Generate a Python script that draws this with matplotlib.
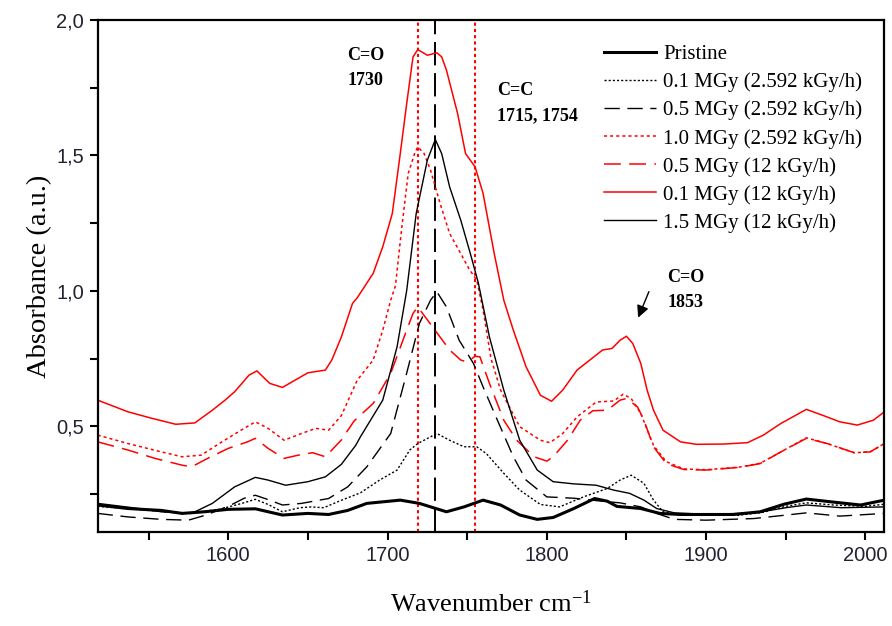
import numpy as np
import matplotlib
matplotlib.use("Agg")
import matplotlib.pyplot as plt
from matplotlib.ticker import MultipleLocator, FuncFormatter

plt.rcParams['mathtext.default'] = 'regular'

# --- spectra (wavenumber, absorbance) ---
wn_pristine = [1518, 1537, 1558, 1571, 1585, 1600, 1617, 1634, 1650, 1663, 1675, 1687, 1708, 1720,
               1737, 1748, 1760, 1771, 1783, 1794, 1804, 1817, 1830, 1838, 1844, 1859, 1871, 1884,
               1917, 1934, 1949, 1963, 1978, 1997, 2012]
a_pristine = [0.210, 0.197, 0.190, 0.179, 0.185, 0.194, 0.196, 0.173, 0.179, 0.175, 0.190, 0.216, 0.228, 0.216,
              0.185, 0.203, 0.228, 0.210, 0.173, 0.157, 0.164, 0.197, 0.234, 0.224, 0.205, 0.197, 0.179, 0.175,
              0.175, 0.185, 0.213, 0.232, 0.222, 0.210, 0.228]

wn_01_low = [1518, 1540, 1560, 1578, 1595, 1608, 1617, 1625, 1634, 1645, 1652, 1660, 1670, 1683, 1695,
             1706, 1714, 1719, 1731, 1739, 1748, 1756, 1762, 1773, 1783, 1796, 1808, 1823, 1838, 1846,
             1853, 1861, 1867, 1873, 1885, 1920, 1935, 1950, 1963, 1980, 2000, 2012]
a_01_low = [0.205, 0.195, 0.185, 0.180, 0.195, 0.215, 0.231, 0.212, 0.185, 0.200, 0.203, 0.200, 0.225, 0.255, 0.302,
            0.339, 0.413, 0.437, 0.474, 0.449, 0.425, 0.425, 0.400, 0.327, 0.265, 0.212, 0.203, 0.240, 0.271, 0.302,
            0.320, 0.290, 0.228, 0.185, 0.172, 0.172, 0.182, 0.205, 0.218, 0.210, 0.205, 0.213]

wn_05_low = [1518, 1537, 1558, 1575, 1586, 1600, 1610, 1617, 1625, 1634, 1646, 1663, 1675, 1687, 1702,
             1712, 1720, 1727, 1731, 1737, 1745, 1754, 1760, 1769, 1779, 1787, 1800, 1817, 1838, 1846,
             1859, 1869, 1880, 1900, 1930, 1963, 1984, 2012]
a_05_low = [0.179, 0.166, 0.157, 0.154, 0.173, 0.205, 0.235, 0.246, 0.230, 0.210, 0.216, 0.234, 0.277, 0.351, 0.474,
            0.696, 0.880, 0.966, 0.997, 0.941, 0.818, 0.732, 0.646, 0.523, 0.388, 0.302, 0.240, 0.235, 0.222, 0.218,
            0.203, 0.179, 0.157, 0.154, 0.160, 0.181, 0.169, 0.179]

wn_10_low = [1518, 1537, 1558, 1571, 1583, 1596, 1608, 1617, 1625, 1635, 1646, 1655, 1663, 1671, 1681,
             1691, 1697, 1702, 1705, 1709, 1713, 1717, 1719, 1723, 1727, 1733, 1739, 1746, 1751, 1756,
             1760, 1765, 1771, 1783, 1796, 1802, 1810, 1819, 1831, 1842, 1848, 1853, 1859, 1867, 1875,
             1886, 1900, 1921, 1934, 1947, 1963, 1976, 1993, 2003, 2012]
a_10_low = [0.468, 0.437, 0.406, 0.388, 0.394, 0.443, 0.486, 0.517, 0.493, 0.449, 0.474, 0.493, 0.486, 0.540, 0.671,
            0.745, 0.855, 0.966, 1.020, 1.237, 1.434, 1.507, 1.532, 1.507, 1.446, 1.323, 1.212, 1.138, 1.083, 1.040,
            0.930, 0.750, 0.634, 0.499, 0.449, 0.440, 0.474, 0.535, 0.590, 0.594, 0.619, 0.603, 0.548, 0.430, 0.370,
            0.343, 0.340, 0.350, 0.364, 0.406, 0.458, 0.437, 0.403, 0.406, 0.437]

wn_05_high = [1518, 1537, 1554, 1571, 1577, 1587, 1600, 1612, 1617, 1625, 1635, 1644, 1653, 1661, 1671,
              1679, 1691, 1702, 1712, 1716, 1719, 1733, 1739, 1746, 1750, 1755, 1758, 1764, 1773, 1781,
              1792, 1800, 1804, 1813, 1821, 1829, 1838, 1846, 1850, 1857, 1861, 1867, 1875, 1886, 1900,
              1921, 1934, 1947, 1963, 1976, 1993, 2003, 2012]
a_05_high = [0.443, 0.413, 0.382, 0.357, 0.351, 0.382, 0.419, 0.443, 0.456, 0.419, 0.382, 0.394, 0.403, 0.388, 0.450,
             0.520, 0.585, 0.696, 0.855, 0.917, 0.941, 0.830, 0.782, 0.745, 0.738, 0.759, 0.757, 0.659, 0.523, 0.450,
             0.388, 0.372, 0.388, 0.449, 0.523, 0.558, 0.560, 0.597, 0.603, 0.572, 0.523, 0.425, 0.363, 0.341, 0.339,
             0.349, 0.363, 0.406, 0.456, 0.437, 0.403, 0.406, 0.437]

wn_01_high = [1518, 1537, 1552, 1567, 1579, 1590, 1598, 1604, 1613, 1618, 1626, 1634, 1642, 1650, 1661,
              1665, 1671, 1678, 1681, 1691, 1697, 1703, 1708, 1712, 1716, 1719, 1725, 1731, 1734, 1737,
              1744, 1749, 1755, 1760, 1767, 1773, 1779, 1787, 1796, 1803, 1810, 1819, 1827, 1835, 1841,
              1846, 1850, 1854, 1859, 1863, 1867, 1873, 1884, 1894, 1911, 1926, 1936, 1947, 1963, 1976,
              1984, 1995, 2005, 2012]
a_01_high = [0.597, 0.554, 0.530, 0.508, 0.513, 0.560, 0.597, 0.628, 0.689, 0.705, 0.659, 0.644, 0.671, 0.698, 0.708,
             0.745, 0.830, 0.954, 0.975, 1.065, 1.163, 1.286, 1.507, 1.690, 1.864, 1.891, 1.870, 1.879, 1.864, 1.815,
             1.655, 1.507, 1.458, 1.360, 1.138, 0.966, 0.855, 0.720, 0.615, 0.593, 0.634, 0.708, 0.745, 0.782, 0.788,
             0.818, 0.833, 0.806, 0.733, 0.634, 0.560, 0.486, 0.443, 0.434, 0.435, 0.440, 0.468, 0.511, 0.563, 0.535,
             0.517, 0.505, 0.523, 0.554]

wn_15_high = [1518, 1540, 1558, 1577, 1590, 1604, 1617, 1625, 1636, 1650, 1661, 1671, 1680, 1683, 1697,
              1706, 1712, 1718, 1725, 1730, 1734, 1739, 1746, 1752, 1757, 1764, 1773, 1783, 1794, 1804,
              1817, 1831, 1842, 1852, 1861, 1869, 1880, 1900, 1930, 1950, 1963, 1985, 2012]
a_15_high = [0.216, 0.200, 0.185, 0.179, 0.216, 0.277, 0.312, 0.302, 0.283, 0.296, 0.314, 0.360, 0.430, 0.462, 0.597,
             0.794, 1.000, 1.286, 1.483, 1.559, 1.507, 1.384, 1.261, 1.138, 1.030, 0.830, 0.634, 0.449, 0.339, 0.296,
             0.288, 0.283, 0.265, 0.253, 0.228, 0.197, 0.181, 0.176, 0.180, 0.200, 0.210, 0.200, 0.203]

labels = ["Pristine", "0.1 MGy (2.592 kGy/h)", "0.5 MGy (2.592 kGy/h)", "1.0 MGy (2.592 kGy/h)",
          "0.5 MGy (12 kGy/h)", "0.1 MGy (12 kGy/h)", "1.5 MGy (12 kGy/h)"]

band_co = 1730
band_cc = [1719, 1755]

fig = plt.figure(figsize=(8.92, 6.26), dpi=100)
ax = fig.add_axes([0.1095, 0.150, 0.882, 0.818])

ax.plot(wn_pristine, a_pristine, color='black', lw=2.2, label=labels[0])
ax.plot(wn_01_low, a_01_low, color='black', lw=1.0, dashes=(1.5, 1.5), label=labels[1])
ax.plot(wn_05_low, a_05_low, color='black', lw=1.0, dashes=(11, 5.5), label=labels[2])
ax.plot(wn_10_low, a_10_low, color='red', lw=1.1, dashes=(2, 2), label=labels[3])
ax.plot(wn_05_high, a_05_high, color='red', lw=1.1, dashes=(11, 5.5), label=labels[4])
ax.plot(wn_01_high, a_01_high, color='red', lw=1.1, label=labels[5])
ax.plot(wn_15_high, a_15_high, color='black', lw=1.0, label=labels[6])

ax.axvline(band_co, color='black', lw=1.4, dashes=(12, 4), zorder=1)
for b in band_cc:
    ax.axvline(b, color='red', lw=1.5, dashes=(1.5, 1.5), zorder=1)

ax.set_xlim(1518, 2012)
ax.set_ylim(0.11, 2.0)
ax.xaxis.set_major_locator(MultipleLocator(100))
ax.xaxis.set_minor_locator(MultipleLocator(50))
ax.yaxis.set_major_locator(MultipleLocator(0.5))
ax.yaxis.set_minor_locator(MultipleLocator(0.25))
ax.yaxis.set_major_formatter(FuncFormatter(lambda v, p: f"{v:.1f}".replace('.', ',')))
ax.tick_params(which='both', direction='out', length=6, width=1.5, colors='black',
               labelsize=14.5, labelcolor='#222233', pad=4)
for lab in ax.get_xticklabels() + ax.get_yticklabels():
    lab.set_fontfamily('Liberation Sans')
for sp in ax.spines.values():
    sp.set_linewidth(1.6)

ax.set_xlabel(r"Wavenumber cm$^{-1}$", family='Liberation Serif', fontsize=19, labelpad=18)
ax.set_ylabel("Absorbance (a.u.)", family='Liberation Serif', fontsize=20.5, labelpad=3)

txt = dict(family='Liberation Serif', fontsize=13, fontweight='bold', linespacing=1.6, va='center', ha='left')
ax.text(1674.6, 1.824, "C=O\n1730", **txt)
ax.text(1768.6, 1.693, "C=C\n1715, 1754", **txt)
ax.text(1875.5, 1.003, "C=O\n1853", **txt)
ax.annotate("", xy=(1856.7, 0.892), xytext=(1864.8, 1.007),
            arrowprops=dict(arrowstyle='-|>', color='black', lw=1.0, mutation_scale=18))

leg = ax.legend(loc='upper left', bbox_to_anchor=(0.633, 0.968), frameon=False,
                prop={'family': 'Liberation Serif', 'size': 15},
                handlelength=2.5, handletextpad=0.35, labelspacing=0.4, borderaxespad=0)

fig.savefig("out.png", dpi=100)
